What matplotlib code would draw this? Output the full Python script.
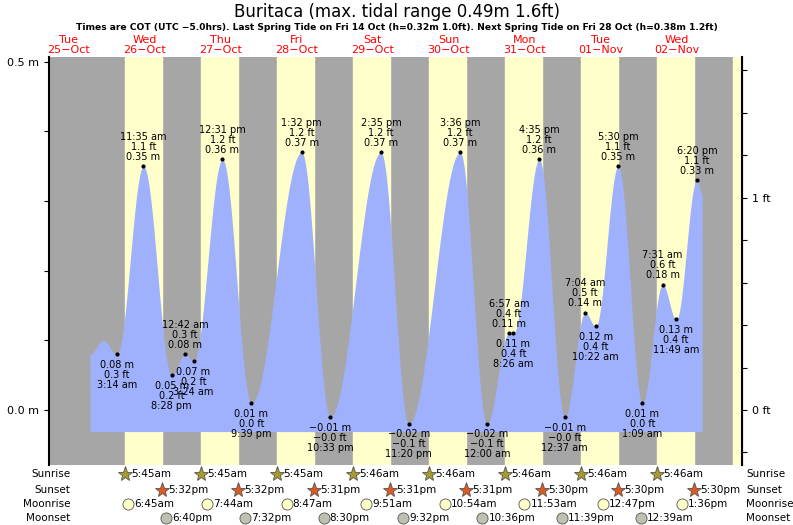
import numpy as np
import matplotlib.pyplot as plt

# tide extremes: hours since 25-Oct 00:00 (local), height in m, label
ext_hours = [18.7, 22.8, 27.23, 35.58, 44.47, 48.7, 51.4, 60.52, 69.65, 85.53, 94.55,
             110.58, 119.33, 135.6, 144.0, 150.95, 152.43, 160.58, 168.62, 175.07,
             178.37, 185.5, 193.15, 199.52, 203.82, 210.33, 212.0]
ext_m = [0.08, 0.10, 0.08, 0.35, 0.05, 0.08, 0.07, 0.36, 0.01, 0.37, -0.01,
         0.37, -0.02, 0.37, -0.02, 0.11, 0.11, 0.36, -0.01, 0.14,
         0.12, 0.35, 0.01, 0.18, 0.13, 0.33, 0.31]
ext_ft = [None, None, "0.3", "1.1", "0.2", "0.3", "0.2", "1.2", "0.0", "1.2", "\u22120.0",
          "1.2", "\u22120.1", "1.2", "\u22120.1", "0.4", "0.4", "1.2", "\u22120.0", "0.5",
          "0.4", "1.1", "0.0", "0.6", "0.4", "1.1", None]
ext_time = [None, None, "3:14 am", "11:35 am", "8:28 pm", "12:42 am", "3:24 am", "12:31 pm",
            "9:39 pm", "1:32 pm", "10:33 pm", "2:35 pm", "11:20 pm", "3:36 pm", "12:00 am",
            "6:57 am", "8:26 am", "4:35 pm", "12:37 am", "7:04 am", "10:22 am", "5:30 pm",
            "1:09 am", "7:31 am", "11:49 am", "6:20 pm", None]

days = ["Tue\n25\u2212Oct", "Wed\n26\u2212Oct", "Thu\n27\u2212Oct", "Fri\n28\u2212Oct",
        "Sat\n29\u2212Oct", "Sun\n30\u2212Oct", "Mon\n31\u2212Oct", "Tue\n01\u2212Nov",
        "Wed\n02\u2212Nov"]
sunrise = ["5:45am", "5:45am", "5:45am", "5:46am", "5:46am", "5:46am", "5:46am", "5:46am"]
sunset = ["5:32pm", "5:32pm", "5:31pm", "5:31pm", "5:31pm", "5:30pm", "5:30pm", "5:30pm"]
moonrise = ["6:45am", "7:44am", "8:47am", "9:51am", "10:54am", "11:53am", "12:47pm", "1:36pm"]
moonset = ["6:40pm", "7:32pm", "8:30pm", "9:32pm", "10:36pm", "11:39pm", None, "12:39am"]


def to_h(s, day):
    hm, ap = s[:-2], s[-2:]
    h, m = map(int, hm.split(":"))
    h = h % 12 + (12 if ap == "pm" else 0)
    return 24 * day + h + m / 60


# smooth curve between extremes (cosine)
tt, hh = [], []
for i in range(len(ext_hours) - 1):
    t = np.linspace(ext_hours[i], ext_hours[i + 1], 40)
    f = (1 - np.cos(np.pi * (t - ext_hours[i]) / (ext_hours[i + 1] - ext_hours[i]))) / 2
    tt.append(t)
    hh.append(ext_m[i] + (ext_m[i + 1] - ext_m[i]) * f)
tt = np.concatenate(tt)
hh = np.concatenate(hh)

fig = plt.figure(figsize=(7.93, 5.25), dpi=100)
ax = fig.add_axes([49 / 793, 60 / 525, 693 / 793, 408 / 525])
x0, x1 = 5.75, 224.6
ax.set_xlim(x0, x1)
ax.set_ylim(-0.079, 0.507)
ax.axvspan(x0, x1, color="#a6a6a6", zorder=0)
for d in range(1, 10):
    sr = to_h(sunrise[min(d - 1, 7)], d)
    ss = to_h(sunset[min(d - 1, 7)], d)
    ax.axvspan(sr, min(ss, x1), color="#ffffcc", zorder=0)

ax.fill_between(tt, -0.031, hh, color="#9fb1fc", lw=0, zorder=1)

for t, m, ft, tm in zip(ext_hours, ext_m, ext_ft, ext_time):
    if tm is None:
        continue
    ax.plot(t, m, "k.", ms=4, zorder=3)
    is_high = m > 0.2 or tm in ("12:42 am", "6:57 am", "7:04 am", "7:31 am")
    if is_high:
        ax.text(t, m + 0.006, f"{tm}\n{ft} ft\n{m:.2f} m", ha="center", va="bottom",
                fontsize=7, linespacing=1.0, zorder=4)
    else:
        ax.text(t, m - 0.008, f"{m:.2f} m\n{ft} ft\n{tm}".replace("-", "\u2212"),
                ha="center", va="top", fontsize=7, linespacing=1.0, zorder=4)

ax.set_yticks([0, 0.1, 0.2, 0.3, 0.4, 0.5])
ax.set_yticklabels(["0.0 m", "", "", "", "", "0.5 m"], fontsize=8)
ax.set_xticks([])
for s in ["top", "bottom"]:
    ax.spines[s].set_visible(False)
ax.spines["left"].set_linewidth(1.5)
ax2 = ax.twinx()
ax2.set_ylim(-0.079 / 0.3048, 0.507 / 0.3048)
ft_ticks = np.arange(-0.2, 1.61, 0.2)
ax2.set_yticks(ft_ticks)
ax2.set_yticklabels(["0 ft" if abs(v) < 1e-9 else "1 ft" if abs(v - 1) < 1e-9 else ""
                     for v in ft_ticks], fontsize=8)
ax2.spines["right"].set_linewidth(1.5)
for s in ["top", "bottom", "left"]:
    ax2.spines[s].set_visible(False)

for d, lab in enumerate(days):
    ax.text(24 * d + 12, 1.005, lab, transform=ax.get_xaxis_transform(), ha="center",
            va="bottom", color="red", fontsize=8, linespacing=1.0)

fig.text(0.5, 1 - 12 / 525, "Buritaca (max. tidal range 0.49m 1.6ft)", ha="center",
         va="center", fontsize=12)
fig.text(0.5, 1 - 27 / 525, "Times are COT (UTC \u22125.0hrs). Last Spring Tide on Fri 14 Oct "
         "(h=0.32m 1.0ft). Next Spring Tide on Fri 28 Oct (h=0.38m 1.2ft)",
         ha="center", va="center", fontsize=6.6, fontweight="bold")

rows = [("Sunrise", 474, sunrise, "*", "#a89a2c", 11),
        ("Sunset", 490, sunset, "*", "#e05a20", 11),
        ("Moonrise", 504, moonrise, "o", "#ffffc8", 8),
        ("Moonset", 518, moonset, "o", "#c0c0b0", 8)]
for name, ypx, vals, mk, col, ms in rows:
    yf = 1 - ypx / 525
    fig.text(70 / 793, yf, name, ha="right", va="center", fontsize=7.5)
    fig.text(746 / 793, yf, name, ha="left", va="center", fontsize=7.5)
    for d, v in enumerate(vals):
        if v is None:
            continue
        h = to_h(v, d + 1)
        xf = (49 + (h - x0) / (x1 - x0) * 693) / 793
        fig.lines.append(plt.Line2D([xf], [yf], marker=mk, ms=ms, color=col,
                                    mec="#555555", mew=0.6, transform=fig.transFigure))
        fig.text(xf + 6 / 793, yf, v, ha="left", va="center", fontsize=7.5)

fig.savefig("out.png", dpi=100)
